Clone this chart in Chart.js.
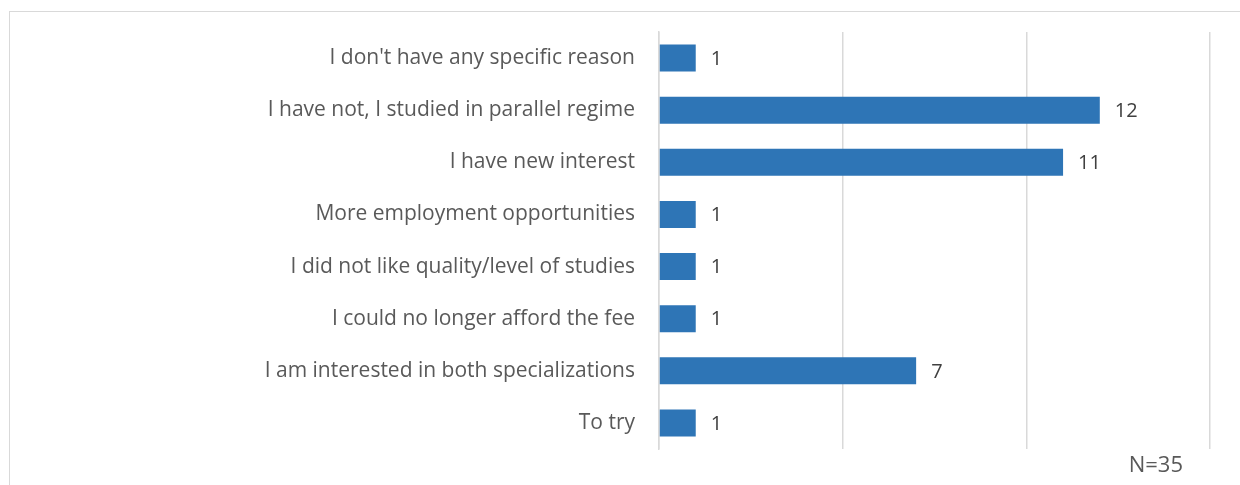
<!DOCTYPE html>
<html>
<head>
<meta charset="utf-8">
<script src="https://cdn.jsdelivr.net/npm/chart.js@4"></script>
<style>
  html, body { margin: 0; padding: 0; background: #fff; }
  body { width: 1240px; height: 485px; overflow: hidden; position: relative; }
  .frame {
    position: absolute; left: 9px; top: 11px; width: 1260px; height: 500px;
    border: 1.5px solid #d9d9d9; box-sizing: border-box;
  }
  #wrap { position: absolute; left: 0; top: 0; width: 1240px; height: 485px; }
</style>
</head>
<body>
<div class="frame"></div>
<div id="wrap"><canvas id="bar-chart"></canvas></div>
<script>
// reasons, top to bottom
const reasons = [
  "I don't have any specific reason",
  'I have not, I studied in parallel regime',
  'I have new interest',
  'More employment opportunities',
  'I did not like quality/level of studies',
  'I could no longer afford the fee',
  'I am interested in both specializations',
  'To try'
];
const counts = [1, 12, 11, 1, 1, 1, 7, 1];
const axisMax = 15;
const axisStep = 5;
const sampleNote = 'N=35';

const labelFont = "'Open Sans', 'Noto Sans', sans-serif";

// value labels at the end of each bar, plus the N note
const valueLabels = {
  id: 'valueLabels',
  afterDatasetsDraw(chart) {
    const ctx = chart.ctx;
    const meta = chart.getDatasetMeta(0);
    ctx.save();
    ctx.font = '20px ' + labelFont;
    ctx.fillStyle = '#404040';
    ctx.textAlign = 'left';
    ctx.textBaseline = 'middle';
    meta.data.forEach((bar, i) => {
      ctx.fillText(String(counts[i]), bar.x + 15, bar.y + 1);
    });
    ctx.font = '22px ' + labelFont;
    ctx.fillStyle = '#595959';
    ctx.textAlign = 'right';
    ctx.fillText(sampleNote, chart.chartArea.right - 27, chart.chartArea.bottom + 17);
    ctx.restore();
  }
};

const ctxBar = document.getElementById('bar-chart').getContext('2d');
new Chart(ctxBar, {
  type: 'bar',
  data: {
    labels: reasons,
    datasets: [{
      data: counts,
      backgroundColor: '#2e75b6',
      borderWidth: 0,
      categoryPercentage: 1,
      barPercentage: 0.52
    }]
  },
  options: {
    indexAxis: 'y',
    responsive: true,
    maintainAspectRatio: false,
    animation: false,
    layout: { padding: { left: 0, right: 30, top: 32, bottom: 36 } },
    plugins: {
      legend: { display: false },
      tooltip: { enabled: false }
    },
    scales: {
      x: {
        min: 0,
        max: axisMax,
        ticks: { stepSize: axisStep, display: false },
        grid: { color: '#d9d9d9', lineWidth: 1.5, drawTicks: false },
        border: { display: false }
      },
      y: {
        afterFit(scale) {
          scale.width = 659;
          scale.paddingTop = 0;
          scale.paddingBottom = 0;
        },
        ticks: {
          color: '#595959',
          padding: 24,
          font: { family: labelFont, size: 21 }
        },
        grid: { display: false, drawTicks: false },
        border: { display: true, color: '#d9d9d9', width: 1.5 }
      }
    }
  },
  plugins: [valueLabels]
});
</script>
</body>
</html>
